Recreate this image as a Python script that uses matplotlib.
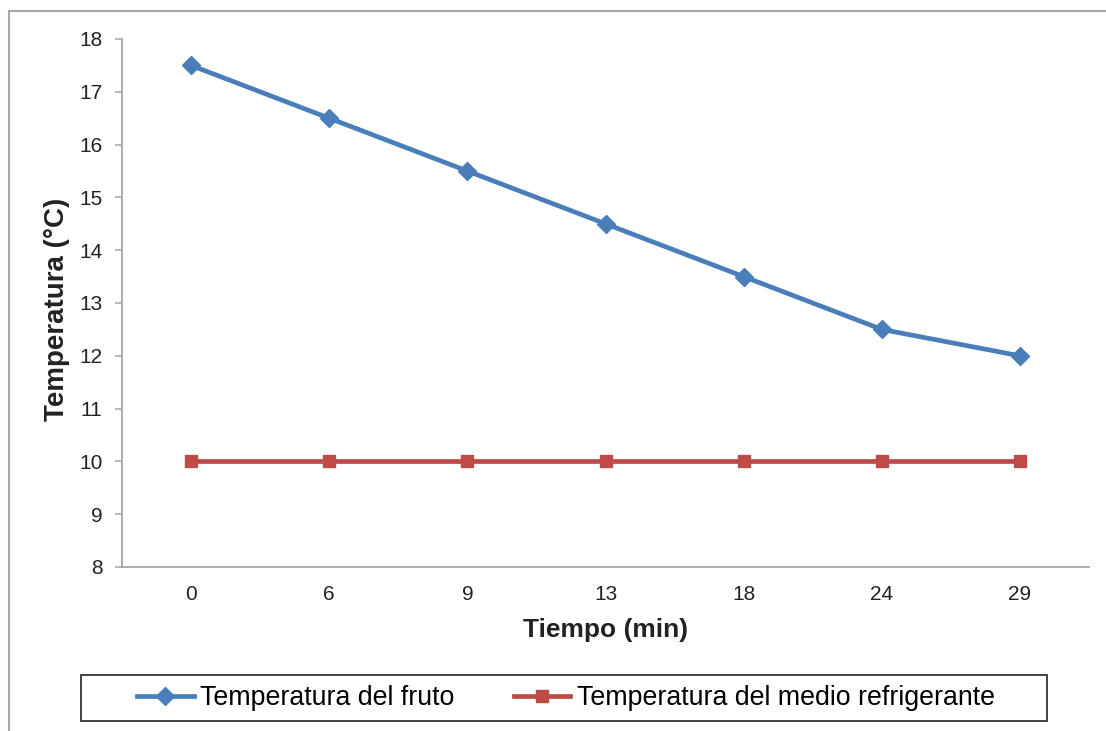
import matplotlib
matplotlib.use("Agg")
import matplotlib.pyplot as plt
from matplotlib.lines import Line2D
from matplotlib.patches import Rectangle

plt.rcParams['font.family'] = ['Liberation Sans', 'DejaVu Sans']

# datos del enfriamiento
tiempo = ['0', '6', '9', '13', '18', '24', '29']
temp_fruto = [17.5, 16.5, 15.5, 14.5, 13.5, 12.5, 12.0]
temp_medio = [10, 10, 10, 10, 10, 10, 10]

azul = '#4A7EBB'
rojo = '#BE4B48'
gris = '#A6A6A6'

W, H = 1106, 731
fig = plt.figure(figsize=(W / 100, H / 100), dpi=100)
ax = fig.add_axes([122 / W, 1 - 567 / H, (1089 - 122) / W, (567 - 39) / H])

x = range(len(tiempo))
ax.plot(x, temp_fruto, color=azul, lw=3.4, marker='D', markersize=9.5,
        label='Temperatura del fruto')
ax.plot(x, temp_medio, color=rojo, lw=3.4, marker='s', markersize=9,
        label='Temperatura del medio refrigerante')

ax.set_xlim(-0.5, len(tiempo) - 0.5)
ax.set_ylim(8, 18)
ax.set_yticks(range(8, 19))
ax.set_xticks(list(x))
ax.set_xticklabels(tiempo)

for s in ['top', 'right']:
    ax.spines[s].set_visible(False)
for s in ['left', 'bottom']:
    ax.spines[s].set_color(gris)
    ax.spines[s].set_linewidth(1.3)

ax.tick_params(axis='y', length=5, width=1.1, color=gris, pad=9,
               labelsize=15, labelcolor='#222222')
ax.tick_params(axis='x', length=0, pad=13, labelsize=15, labelcolor='#222222')

# titulos de ejes
fig.text(0.5 * (122 + 1089) / W, 1 - 630 / H, 'Tiempo (min)', ha='center',
         va='center', fontsize=19, fontweight='bold', color='#222222')
fig.text(57 / W, 1 - 309 / H, 'Temperatura (°C)', ha='center', va='center',
         rotation=90, fontsize=20, fontweight='bold', color='#222222')

# marco exterior del grafico
fig.add_artist(Line2D([9 / W, 9 / W], [0, 1 - 11 / H], color=gris, lw=1.5,
                      transform=fig.transFigure))
fig.add_artist(Line2D([9 / W, 1], [1 - 11 / H, 1 - 11 / H], color=gris, lw=1.5,
                      transform=fig.transFigure))

# leyenda con recuadro
fig.add_artist(Rectangle((81 / W, 1 - 721 / H), (1047 - 81) / W, 46 / H,
                         fill=False, edgecolor='#333333', lw=1.3,
                         transform=fig.transFigure))
fig.legend(loc='center', bbox_to_anchor=(566 / W, 1 - 698 / H), ncol=2,
           frameon=False, fontsize=19.3, handlelength=2.1, handletextpad=0.25,
           columnspacing=2.2, borderpad=0.2)

fig.savefig('out.png', dpi=100)
